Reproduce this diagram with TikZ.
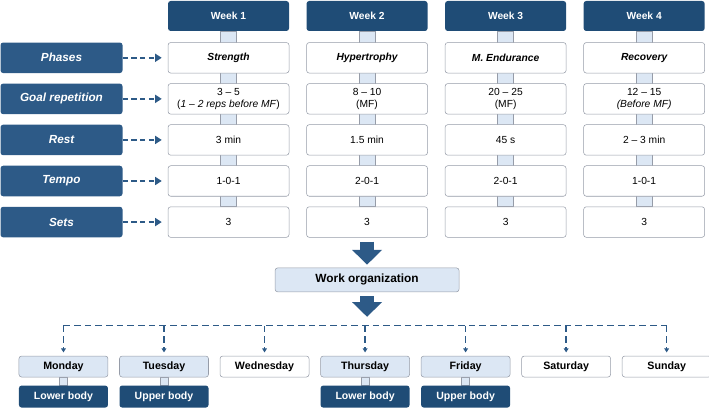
\documentclass[tikz,border=0pt]{standalone}
\usepackage{fontspec}
\setmainfont{Liberation Sans}
\usetikzlibrary{arrows.meta,positioning,calc,backgrounds}
\definecolor{navy}{RGB}{31,76,118}
\definecolor{labelblue}{RGB}{45,90,135}
\definecolor{paleblue}{RGB}{220,231,244}
\definecolor{boxgray}{RGB}{150,156,168}

\begin{document}
\begin{tikzpicture}[
  node distance=7.5pt,
  week/.style={rectangle,rounded corners=2pt,fill=navy,text=white,
               font=\fontsize{7.7}{9}\selectfont\bfseries,
               minimum width=90.75pt,minimum height=22.5pt,inner sep=0pt},
  param/.style={rectangle,rounded corners=2pt,fill=labelblue,text=white,
                font=\fontsize{8.8}{10}\selectfont\bfseries\itshape,
                minimum width=91.5pt,minimum height=22.9pt,inner sep=0pt},
  cell/.style={rectangle,draw=boxgray,rounded corners=2pt,fill=white,align=center,
               font=\fontsize{7.7}{8.6}\selectfont,
               minimum width=90.75pt,minimum height=22.9pt,inner sep=0pt},
  phase/.style={cell,font=\fontsize{7.7}{8.6}\selectfont\bfseries\itshape},
  work/.style={rectangle,draw=boxgray,rounded corners=2pt,fill=paleblue,
               font=\fontsize{8.9}{10}\selectfont\bfseries,
               minimum width=138pt,minimum height=18pt,inner sep=0pt},
  day/.style={rectangle,draw=boxgray,rounded corners=2pt,fill=white,
              font=\fontsize{8}{9}\selectfont\bfseries,
              minimum width=66.75pt,minimum height=15.75pt,inner sep=0pt},
  busy/.style={day,fill=paleblue},
  body/.style={rectangle,rounded corners=2pt,fill=navy,text=white,
               font=\fontsize{7.9}{9}\selectfont\bfseries,
               minimum width=66.75pt,minimum height=16.5pt,inner sep=0pt},
  bar/.style={draw=boxgray,fill=paleblue,line width=.5pt},
  link/.style={-{Triangle[length=5pt,width=6pt]},draw=labelblue,line width=1.5pt,
               dash pattern=on 4pt off 2.5pt,shorten >=4.5pt},
  branch/.style={draw=labelblue,line width=1pt,dash pattern=on 5pt off 3pt},
  drop/.style={branch,-{Triangle[length=3pt,width=3.5pt]},shorten >=2.5pt},
  bigarrow/.style={draw=labelblue,line width=10.5pt,
                   -{Triangle[length=11pt,width=22.5pt,line width=0pt]}}]
\useasboundingbox (0,0) rectangle (531.75pt,-306.75pt);
% weeks
\node[week] (w1) at (171.4pt,-12pt) {Week 1};
\node[week,right=12.75pt of w1] (w2) {Week 2};
\node[week,right=12.75pt of w2] (w3) {Week 3};
\node[week,right=12.75pt of w3] (w4) {Week 4};
% phases
\node[phase,below=8.25pt of w1] (p1) {Strength};
\node[phase,below=8.25pt of w2] (p2) {Hypertrophy};
\node[phase,below=8.25pt of w3] (p3) {M. Endurance};
\node[phase,below=8.25pt of w4] (p4) {Recovery};
% goal repetition
\node[cell,below=of p1] (g1) {3 -- 5\\(\textit{1 -- 2 reps before MF})};
\node[cell,below=of p2] (g2) {8 -- 10\\(MF)};
\node[cell,below=of p3] (g3) {20 -- 25\\(MF)};
\node[cell,below=of p4] (g4) {12 -- 15\\\textit{(Before MF)}};
% rest
\node[cell,below=of g1] (r1) {3 min};
\node[cell,below=of g2] (r2) {1.5 min};
\node[cell,below=of g3] (r3) {45 s};
\node[cell,below=of g4] (r4) {2 -- 3 min};
% tempo
\node[cell,below=of r1] (t1) {1-0-1};
\node[cell,below=of r2] (t2) {2-0-1};
\node[cell,below=of r3] (t3) {2-0-1};
\node[cell,below=of r4] (t4) {1-0-1};
% sets
\node[cell,below=of t1] (s1) {3};
\node[cell,below=of t2] (s2) {3};
\node[cell,below=of t3] (s3) {3};
\node[cell,below=of t4] (s4) {3};
% parameters
\node[param,left=33.75pt of p1] (phases) {Phases};
\node[param,left=33.75pt of g1] (goal) {Goal repetition};
\node[param,left=33.75pt of r1] (rest) {Rest};
\node[param,left=33.75pt of t1] (tempo) {Tempo};
\node[param,left=33.75pt of s1] (sets) {Sets};
\draw[link] (phases) -- (p1);
\draw[link] (goal) -- (g1);
\draw[link] (rest) -- (r1);
\draw[link] (tempo) -- (t1);
\draw[link] (sets) -- (s1);
% work organization
\node[work,below=22.5pt of s2] (work) {Work organization};
\draw[bigarrow,shorten <=3pt,shorten >=2.25pt] (s2) -- (work);
% days
\node[busy] (mon) at (47.6pt,-274.9pt) {Monday};
\node[busy,right=8.25pt of mon] (tue) {Tuesday};
\node[day,right=8.25pt of tue] (wed) {Wednesday};
\node[busy,right=8.25pt of wed] (thu) {Thursday};
\node[busy,right=8.25pt of thu] (fri) {Friday};
\node[day,right=8.25pt of fri] (sat) {Saturday};
\node[day,right=8.25pt of sat] (sun) {Sunday};
\node[body,below=6pt of mon] (monbody) {Lower body};
\node[body,below=6pt of tue] (tuebody) {Upper body};
\node[body,below=6pt of thu] (thubody) {Lower body};
\node[body,below=6pt of fri] (fribody) {Upper body};
\coordinate[above=22.5pt of mon] (split);
\draw[bigarrow,shorten <=3pt,shorten >=6.75pt] (work) -- (work |- split);
\draw[branch] (split) -- (split -| sun);
\draw[drop] (split) -- (mon);
\draw[drop] (split -| tue) -- (tue);
\draw[drop] (split -| wed) -- (wed);
\draw[drop] (split -| thu) -- (thu);
\draw[drop] (split -| fri) -- (fri);
\draw[drop] (split -| sat) -- (sat);
\draw[drop] (split -| sun) -- (sun);
% bars behind
\begin{scope}[on background layer]
\draw[bar] ([xshift=-6pt]w1.south) rectangle ([xshift=6pt]s1.north);
\draw[bar] ([xshift=-6pt]w2.south) rectangle ([xshift=6pt]s2.north);
\draw[bar] ([xshift=-6pt]w3.south) rectangle ([xshift=6pt]s3.north);
\draw[bar] ([xshift=-6pt]w4.south) rectangle ([xshift=6pt]s4.north);
\draw[bar] ([xshift=-3pt]mon.south) rectangle ([xshift=3pt]monbody.north);
\draw[bar] ([xshift=-3pt]tue.south) rectangle ([xshift=3pt]tuebody.north);
\draw[bar] ([xshift=-3pt]thu.south) rectangle ([xshift=3pt]thubody.north);
\draw[bar] ([xshift=-3pt]fri.south) rectangle ([xshift=3pt]fribody.north);
\end{scope}
\end{tikzpicture}
\end{document}
